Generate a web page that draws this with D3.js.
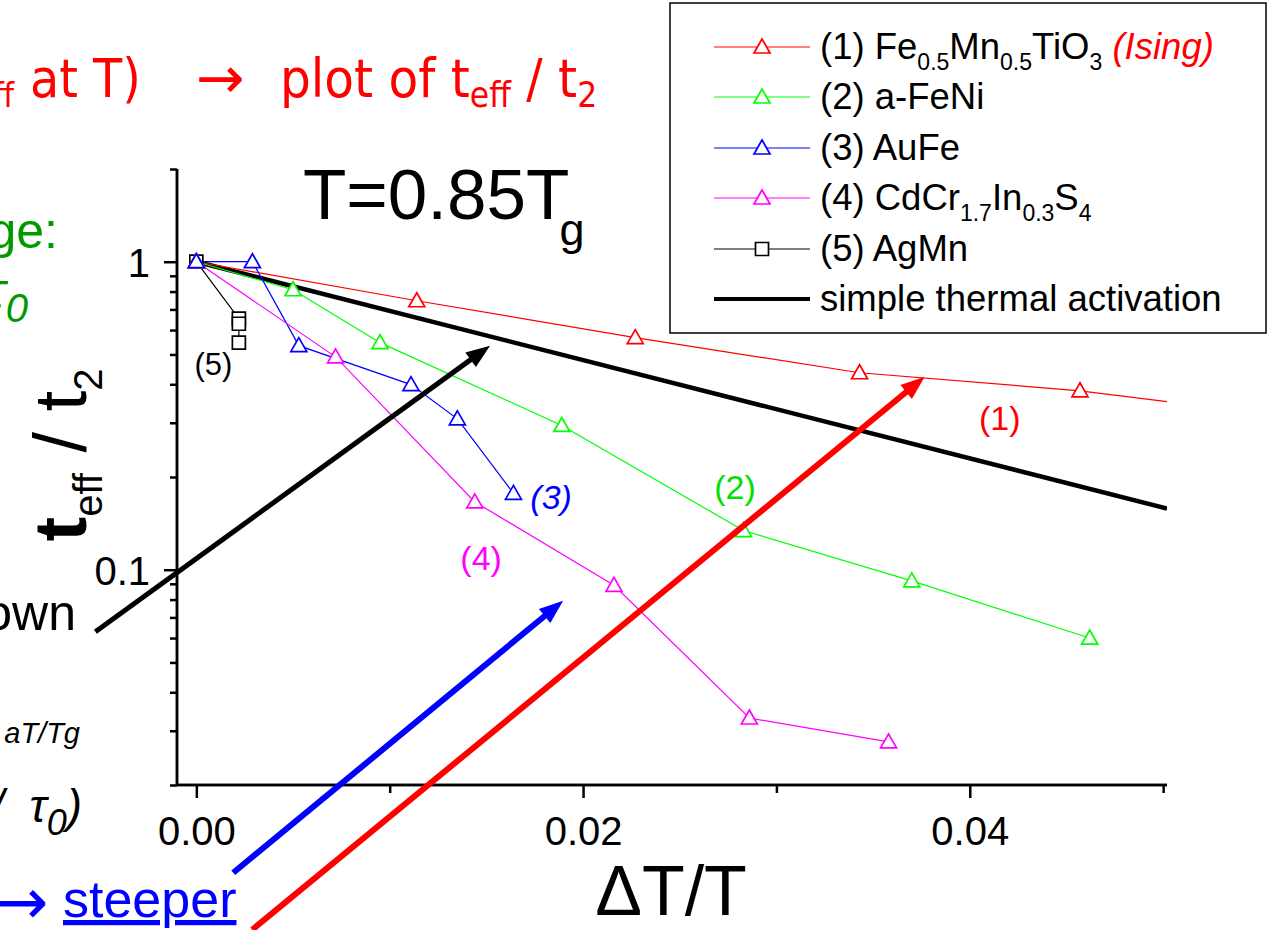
<!doctype html>
<html>
  <style>
    body { margin: 0; background-color: #fff; }
    text { font-family: "Liberation Sans", Arial, sans-serif; }
    text.slide { font-family: "DejaVu Sans Condensed", "DejaVu Sans", sans-serif; }
    .axis path, .axis line { stroke: #000; stroke-width: 2.5px; }
  </style>
  <body>
  <script src="https://d3js.org/d3.v7.min.js" charset="utf-8"></script>
  <script>
    // dT/T and t_eff/t_2 for each system
    var dTFeMn = [0, 0.0114, 0.0227, 0.0343, 0.0457, 0.0550];
    var ratioFeMn = [1, 0.747, 0.567, 0.436, 0.381, 0.322];

    var dTFeNi = [0, 0.0050, 0.0095, 0.0189, 0.0283, 0.0370, 0.0462];
    var ratioFeNi = [1, 0.811, 0.546, 0.294, 0.134, 0.092, 0.060];

    var dTAuFe = [0, 0.0029, 0.0053, 0.0111, 0.0135, 0.0164];
    var ratioAuFe = [1, 1, 0.534, 0.399, 0.309, 0.177];

    var dTCdCr = [0, 0.0072, 0.0144, 0.0216, 0.0286, 0.0358];
    var ratioCdCr = [1, 0.491, 0.166, 0.089, 0.033, 0.0276];

    var dTAgMn = [0, 0.0022, 0.0022, 0.0022];
    var ratioAgMn = [1, 0.653, 0.629, 0.546];

    var dTThermal = [0, 0.0502];
    var ratioThermal = [1, 0.158];

    var xMajorTicks = [0, 0.02, 0.04];
    var xMinorTicks = [0.01, 0.03, 0.05];
    var yMajorTicks = [1, 0.1];
    var yMinorTicks = [2, 0.9, 0.8, 0.7, 0.6, 0.5, 0.4, 0.3, 0.2,
                       0.09, 0.08, 0.07, 0.06, 0.05, 0.04, 0.03, 0.02];

    var seriesNames = ['FeMnTiO3', 'a-FeNi', 'AuFe', 'CdCrInS', 'AgMn'];
    var seriesColors = ['#ff0000', '#00ff00', '#0000ff', '#ff00ff', '#000000'];
    var seriesX = [dTFeMn, dTFeNi, dTAuFe, dTCdCr, dTAgMn];
    var seriesY = [ratioFeMn, ratioFeNi, ratioAuFe, ratioCdCr, ratioAgMn];
    var seriesMarks = ['tri', 'tri', 'tri', 'tri', 'sq'];
    var markerOrder = [4, 0, 1, 3, 2];

    // curve labels (1)..(5): [dT, ratio] of the label baseline centre
    var labelText = ['(1)', '(2)', '(3)', '(4)', '(5)'];
    var labelX = [0.04155, 0.02786, 0.01835, 0.01473, 0.00088];
    var labelY = [0.285, 0.170, 0.157, 0.100, 0.430];

    // the three slide arrows, in data units: [x1, y1, x2, y2]
    var arrowColors = ['#000', '#0000ff', '#ff0000'];
    var arrowFrom = [[-0.00522, 0.0629], [0.00191, 0.01038], [0.00289, 0.00678]];
    var arrowTo = [[0.01519, 0.534], [0.01897, 0.0793], [0.03767, 0.423]];

    var width = 1269,
        height = 930;

    var svg = d3.select('body').append('svg')
        .attr('width', width)
        .attr('height', height);

    var x = d3.scaleLinear().domain([-0.001, 0.0502]).range([177, 1167]);
    var y = d3.scaleLog().domain([0.02, 2]).range([785, 169]);

    // text with sub-scripts: parts = [[text, {sub, size, italic, bold, fill, dx, font}], ...]
    var rich = function (parent, px, py, parts, size, anchor) {
      var t = parent.append('text')
          .attr('x', px).attr('y', py)
          .style('font-size', size + 'px')
          .attr('text-anchor', anchor || 'start');
      var shift = 0;
      parts.forEach(function (p) {
        var o = p[1] || {};
        var s = t.append('tspan').text(p[0]);
        var target = o.sub || 0;
        if (target !== shift) s.attr('dy', target - shift);
        shift = target;
        if (o.dx) s.attr('dx', o.dx);
        if (o.size) s.style('font-size', o.size + 'px');
        if (o.italic) s.style('font-style', 'italic');
        if (o.bold) s.style('font-weight', 'bold');
        if (o.fill) s.attr('fill', o.fill);
        if (o.font) s.style('font-family', o.font);
      });
      return t;
    };

    var triPath = 'M0,-8L8,6L-8,6Z';
    var sqPath = 'M-6.5,-6.5H6.5V6.5H-6.5Z';

    // ---- slide text around the chart ----
    var headline = svg.append('g').attr('fill', '#ff0000');
    rich(headline, 14, 97, [['(t', {}], ['eff', {sub: 10, size: 34}]], 53, 'end').attr('class', 'slide');
    rich(headline, 30, 97, [['at T)', {}]], 53).attr('class', 'slide');
    rich(headline, 220, 98, [['\u2192', {font: '"DejaVu Sans", sans-serif'}]], 58, 'middle');
    rich(headline, 280, 97, [['plot of t', {}], ['eff', {sub: 10, size: 35}],
                        [' / t', {}], ['2', {sub: 10, size: 35}]], 54).attr('class', 'slide');

    rich(svg, 58, 248, [['ge:', {}]], 50, 'end').attr('fill', '#009900');
    rich(svg, 28, 308, [['\u03c4', {italic: true}], ['0', {sub: 14, size: 40, italic: true}]], 50, 'end')
        .attr('fill', '#009900');
    rich(svg, 76, 630, [['own', {}]], 50, 'end');
    rich(svg, 80, 743, [['aT/Tg', {italic: true}]], 29, 'end');
    rich(svg, 82, 822, [['(t /\u00a0\u00a0\u03c4', {italic: true}], ['0', {sub: 13, size: 36, italic: true}],
                        [')', {italic: true}]], 46, 'end');
    rich(svg, 48, 924, [['\u2192', {font: '"DejaVu Sans", sans-serif'}]], 64, 'end').attr('fill', '#0000ff');
    rich(svg, 63, 917, [['steeper', {}]], 52)
        .attr('fill', '#0000ff')
        .style('text-decoration', 'underline');

    // ---- axes ----
    var gx = svg.append('g').attr('class', 'axis').attr('transform', 'translate(0,785)');
    gx.call(d3.axisBottom(x).tickValues(xMajorTicks).tickSize(13).tickSizeOuter(0)
        .tickFormat(d3.format('.2f')));
    gx.append('g').call(d3.axisBottom(x).tickValues(xMinorTicks).tickSize(8)
        .tickSizeOuter(0).tickFormat(''));
    gx.selectAll('.tick text').attr('dy', 0).attr('y', 60)
        .style('font-size', '40px').attr('fill', '#000')
        .style('font-family', '"Liberation Sans", Arial, sans-serif');

    var gy = svg.append('g').attr('class', 'axis').attr('transform', 'translate(177,0)');
    gy.call(d3.axisLeft(y).tickValues(yMajorTicks).tickSize(13).tickSizeOuter(0)
        .tickFormat(function (d) { return d === 1 ? '1' : '0.1'; }));
    gy.append('g').call(d3.axisLeft(y).tickValues(yMinorTicks).tickSize(7)
        .tickSizeOuter(0).tickFormat(''));
    gy.selectAll('.tick text').attr('x', -27).attr('dy', '0.36em')
        .style('font-size', '40px').attr('fill', '#000')
        .style('font-family', '"Liberation Sans", Arial, sans-serif');
    gy.selectAll('path.domain').attr('d', 'M0,169V785');
    gx.selectAll('path.domain').attr('d', 'M177,0H1167');

    // axis titles
    rich(svg, 671, 915, [['\u0394T/T', {}]], 70, 'middle');
    var yl = svg.append('g').attr('transform', 'translate(86,455) rotate(-90)');
    rich(yl, 0, 0, [['t', {bold: true}], ['eff', {sub: 16, size: 40}],
                    [' / t', {}], ['2', {sub: 16, size: 40}]], 74, 'middle');

    rich(svg, 303, 219, [['T=0.85T', {}], ['g', {sub: 26, size: 45, dx: -10}]], 71);

    // ---- data ----
    svg.append('clipPath').attr('id', 'plot')
      .append('rect').attr('x', 177).attr('y', 169).attr('width', 990).attr('height', 616);

    var plot = svg.append('g').attr('clip-path', 'url(#plot)');

    var line = d3.line()
        .x(function (d) { return x(d[0]); })
        .y(function (d) { return y(d[1]); });

    plot.append('path')
        .attr('d', line(d3.zip(dTThermal, ratioThermal)))
        .attr('fill', 'none').attr('stroke', '#000').attr('stroke-width', 4.5);

    seriesNames.forEach(function (name, i) {
      var pts = d3.zip(seriesX[i], seriesY[i]);
      plot.append('path')
          .attr('d', line(pts))
          .attr('fill', 'none')
          .attr('stroke', seriesColors[i])
          .attr('stroke-width', 1.2);
    });
    // hollow markers with white fill, they break the lines like the original
    markerOrder.forEach(function (i) {
      var pts = d3.zip(seriesX[i], seriesY[i]);
      plot.selectAll('.m' + i).data(pts).enter().append('path')
          .attr('class', 'm' + i)
          .attr('d', seriesMarks[i] === 'tri' ? triPath : sqPath)
          .attr('transform', function (d) { return 'translate(' + x(d[0]) + ',' + y(d[1]) + ')'; })
          .attr('fill', '#fff')
          .attr('stroke', seriesColors[i])
          .attr('stroke-width', 1.7);
    });

    var labelColors = ['#ff0000', '#00e000', '#0000ff', '#ff00ff', '#000'];
    labelText.forEach(function (t, i) {
      svg.append('text')
          .attr('x', x(labelX[i])).attr('y', y(labelY[i]))
          .attr('text-anchor', 'middle')
          .attr('fill', labelColors[i])
          .style('font-size', i === 4 ? '31px' : '34px')
          .style('font-style', i === 2 ? 'italic' : 'normal')
          .text(t);
    });

    // ---- legend ----
    var leg = svg.append('g');
    leg.append('rect').attr('x', 670).attr('y', 3).attr('width', 596).attr('height', 330)
        .attr('fill', '#fff').attr('stroke', '#000').attr('stroke-width', 1.5);

    var legendRows = [47, 97, 148, 198, 249, 299];
    var legendText = [
      [['(1) Fe', {}], ['0.5', {sub: 11, size: 23}], ['Mn', {}], ['0.5', {sub: 11, size: 23}],
       ['TiO', {}], ['3', {sub: 11, size: 23}], [' ', {}], ['(Ising)', {italic: true, fill: '#ff0000'}]],
      [['(2) a-FeNi', {}]],
      [['(3) AuFe', {}]],
      [['(4) CdCr', {}], ['1.7', {sub: 11, size: 23}], ['In', {}], ['0.3', {sub: 11, size: 23}],
       ['S', {}], ['4', {sub: 11, size: 23}]],
      [['(5) AgMn', {}]],
      [['simple thermal activation', {}]]
    ];

    legendRows.forEach(function (ry, i) {
      var col = i < 5 ? seriesColors[i] : '#000';
      leg.append('line')
          .attr('x1', 714).attr('x2', 810).attr('y1', ry).attr('y2', ry)
          .attr('stroke', col).attr('stroke-width', i < 5 ? 1.2 : 4);
      if (i < 5) {
        leg.append('path')
            .attr('d', seriesMarks[i] === 'tri' ? triPath : sqPath)
            .attr('transform', 'translate(762,' + ry + ')')
            .attr('fill', '#fff').attr('stroke', col).attr('stroke-width', 1.7);
      }
      rich(leg, 820, ry + 12, legendText[i], 36.5);
    });

    // ---- arrows ----
    var drawArrow = function (x1, y1, x2, y2, color, w) {
      var dx = x2 - x1, dy = y2 - y1, len = Math.sqrt(dx * dx + dy * dy);
      var ux = dx / len, uy = dy / len;
      var hl = 24, hw = 9;
      svg.append('line')
          .attr('x1', x1).attr('y1', y1)
          .attr('x2', x2 - ux * (hl - 4)).attr('y2', y2 - uy * (hl - 4))
          .attr('stroke', color).attr('stroke-width', w);
      var bx = x2 - ux * hl, by = y2 - uy * hl;
      svg.append('path')
          .attr('d', 'M' + x2 + ',' + y2 +
                     'L' + (bx - uy * hw) + ',' + (by + ux * hw) +
                     'L' + (bx + uy * hw) + ',' + (by - ux * hw) + 'Z')
          .attr('fill', color);
    };

    arrowColors.forEach(function (c, i) {
      drawArrow(x(arrowFrom[i][0]), y(arrowFrom[i][1]),
                x(arrowTo[i][0]), y(arrowTo[i][1]), c, i === 0 ? 5 : 6);
    });
  </script>
  </body>
</html>
